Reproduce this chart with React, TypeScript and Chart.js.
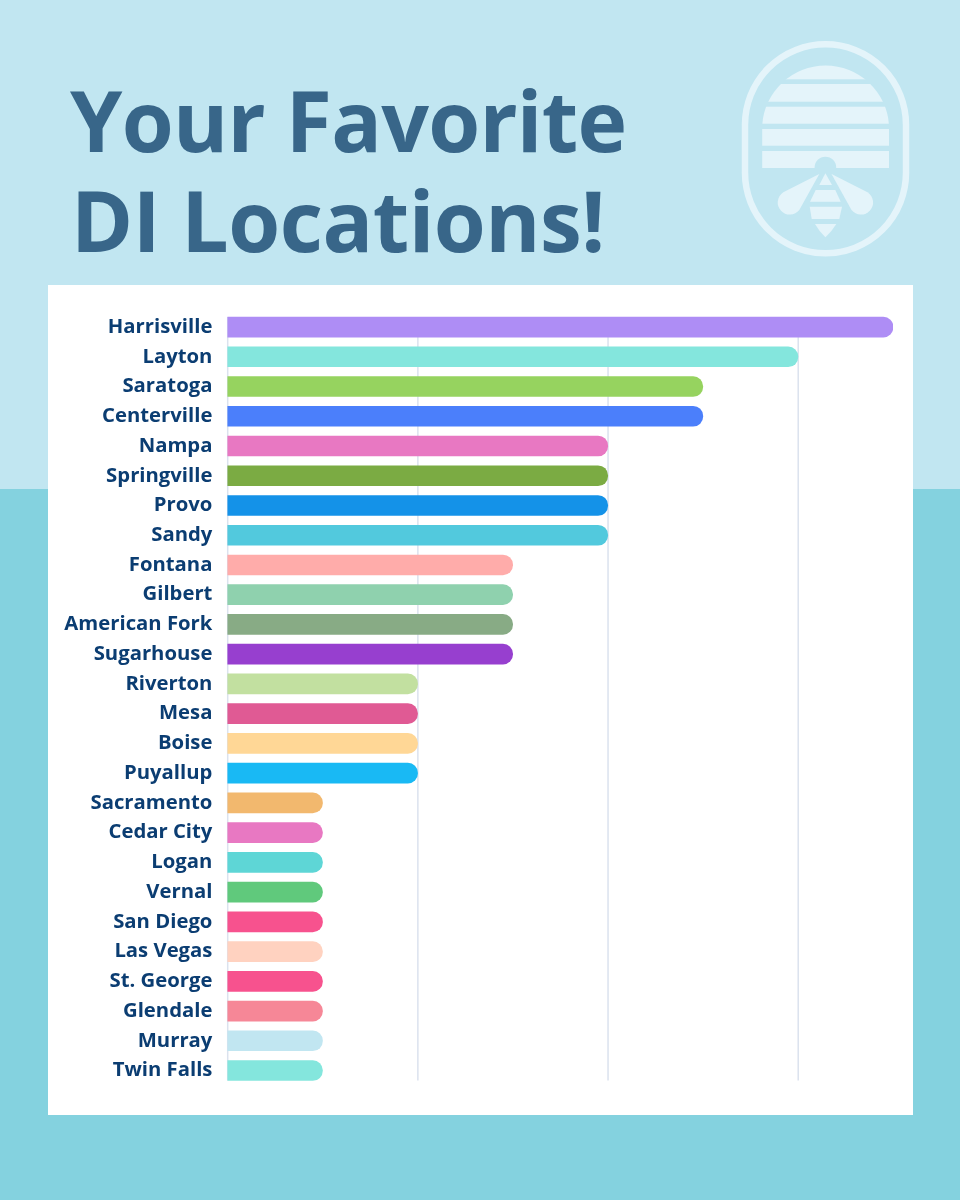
import { useEffect, useRef } from 'react';
import Chart from 'chart.js/auto';

const locations = [
  'Harrisville', 'Layton', 'Saratoga', 'Centerville', 'Nampa', 'Springville', 'Provo', 'Sandy',
  'Fontana', 'Gilbert', 'American Fork', 'Sugarhouse', 'Riverton', 'Mesa', 'Boise', 'Puyallup',
  'Sacramento', 'Cedar City', 'Logan', 'Vernal', 'San Diego', 'Las Vegas', 'St. George',
  'Glendale', 'Murray', 'Twin Falls',
];
const votes = [7, 6, 5, 5, 4, 4, 4, 4, 3, 3, 3, 3, 2, 2, 2, 2, 1, 1, 1, 1, 1, 1, 1, 1, 1, 1];
const barColors = [
  '#ae8df5', '#84e6dd', '#96d35f', '#4b7ffb', '#e878c2', '#7bab43', '#1492e8', '#52c9dd',
  '#ffacaa', '#8fd1ae', '#88ab85', '#973fcf', '#c2e0a0', '#e05a94', '#ffd796', '#19b9f4',
  '#f2b86e', '#e878c2', '#5ed6d6', '#60c97c', '#f7528e', '#ffd2c0', '#f7528e', '#f68797',
  '#c1e6f1', '#84e6dd',
];
const gridValues = [0, 2, 4, 6];

const FONT = '"Open Sans", sans-serif';

// grid lines only run from the first bar's top to the last bar's bottom
const shortGrid = {
  id: 'shortGrid',
  beforeDatasetsDraw(chart: any) {
    const bars = chart.getDatasetMeta(0).data;
    const top = bars[0].y - bars[0].height / 2;
    const last = bars[bars.length - 1];
    const bottom = last.y + last.height / 2;
    const ctx = chart.ctx;
    ctx.save();
    ctx.strokeStyle = '#dbe2ee';
    ctx.lineWidth = 1.5;
    gridValues.forEach((v) => {
      const x = chart.scales.x.getPixelForValue(v) + 0.3;
      ctx.beginPath();
      ctx.moveTo(x, top);
      ctx.lineTo(x, bottom);
      ctx.stroke();
    });
    ctx.restore();
  },
};

function Logo() {
  const c = '#e4f4fa';
  const bg = '#c1e6f1';
  return (
    <svg width="960" height="285" style={{ position: 'absolute', left: 0, top: 0 }}>
      <defs>
        <clipPath id="dome">
          <path d="M762.2 170 V125.5 A63.5 63.5 0 0 1 889 125.5 V170 Z" />
        </clipPath>
      </defs>
      <rect x="745" y="44.3" width="161" height="209" rx="80.5" fill="none" stroke={c} strokeWidth="6.5" />
      <g clipPath="url(#dome)" fill={c}>
        <rect x="760" y="60" width="132" height="19.3" />
        <rect x="760" y="84" width="132" height="17.7" />
        <rect x="760" y="106.7" width="132" height="17" />
        <rect x="760" y="129" width="132" height="16.7" />
        <rect x="760" y="151" width="132" height="17" />
      </g>
      <circle cx="825.4" cy="167.5" r="10.8" fill={bg} />
      <g fill={c}>
        <path d="M825.4 173.3 L819.3 185 H832 Z" />
        <path d="M815.7 190 H835.3 L840.7 201.7 H810 Z" />
        <path d="M809.7 206.7 H842 L839.3 219 H811.7 Z" />
        <path d="M815 224 H836.3 Q831.5 232 825.4 237.3 Q819.5 232 815 224 Z" />
        <path d="M819.3 174 L783.3 192.3 A12.1 12.1 0 1 0 799.3 210 Z" />
        <path d="M831.5 174 L867.5 192.3 A12.1 12.1 0 1 1 851.5 210 Z" />
      </g>
    </svg>
  );
}

export default function App() {
  const chartRef = useRef<HTMLCanvasElement>(null);

  useEffect(() => {
    if (!chartRef.current) return;
    const chart = new Chart(chartRef.current, {
      type: 'bar',
      data: {
        labels: locations,
        datasets: [{
          data: votes,
          backgroundColor: barColors,
          barThickness: 20,
          borderSkipped: false,
          borderRadius: { topLeft: 0, bottomLeft: 0, topRight: 10, bottomRight: 10 },
        }],
      },
      options: {
        indexAxis: 'y',
        responsive: false,
        animation: false,
        layout: { padding: { left: 0, right: 20, top: 26.6, bottom: 29.6 } },
        plugins: { legend: { display: false }, tooltip: { enabled: false } },
        scales: {
          x: {
            min: 0,
            max: 7,
            grid: { display: false },
            border: { display: false },
            ticks: { display: false, stepSize: 2 },
            afterFit: (s: any) => { s.height = 0; },
          },
          y: {
            grid: { display: false, drawTicks: false },
            border: { display: false },
            ticks: {
              autoSkip: false,
              padding: 15,
              color: '#0b3d72',
              font: { family: FONT, size: 20.3, weight: 'bold' },
            },
            afterFit: (s: any) => { s.width = 179.4; },
          },
        },
      },
      plugins: [shortGrid],
    } as any);
    return () => chart.destroy();
  }, []);

  const titleStyle = {
    position: 'absolute' as const,
    fontFamily: FONT,
    fontWeight: 700,
    fontSize: 84,
    letterSpacing: -0.75,
    lineHeight: '100px',
    color: '#386689',
    whiteSpace: 'nowrap' as const,
  };

  return (
    <div style={{ position: 'absolute', left: 0, top: 0, width: 960, height: 1200, overflow: 'hidden', background: '#84d2df' }}>
      <div style={{ position: 'absolute', left: 0, top: 0, width: 960, height: 489, background: '#c1e6f1' }} />
      <Logo />
      <div style={{ ...titleStyle, left: 70, top: 70 }}>Your Favorite</div>
      <div style={{ ...titleStyle, left: 71, top: 170, letterSpacing: -0.5 }}>DI Locations!</div>
      <div style={{ position: 'absolute', left: 48, top: 285, width: 865, height: 830, background: '#ffffff' }}>
        <canvas ref={chartRef} width={865} height={830} style={{ display: 'block' }} />
      </div>
    </div>
  );
}
